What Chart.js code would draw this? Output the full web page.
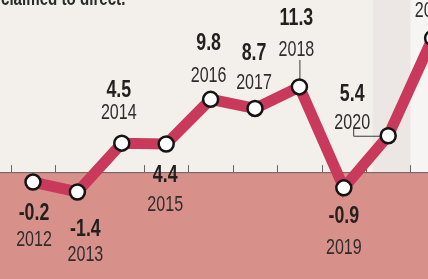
<!DOCTYPE html>
<html>
<head>
<meta charset="utf-8">
<script src="https://cdn.jsdelivr.net/npm/chart.js@4"></script>
<style>
  html, body { margin: 0; padding: 0; background: #f3f0eb; overflow: hidden; }
  #wrap { position: relative; width: 428px; height: 279px; overflow: hidden; }
  #head { position: absolute; left: 1px; top: -14px; font: bold 21px "Liberation Sans", sans-serif; color: #2a2a2a; white-space: nowrap; transform: scaleX(0.72); transform-origin: left top; }
  canvas { position: absolute; left: -10px; top: -10px; }
</style>
</head>
<body>
<div id="wrap">
  <canvas id="chart" width="448" height="299"></canvas>
  <div id="head">claimed to direct.</div>
</div>
<script>
const years = [2012, 2013, 2014, 2015, 2016, 2017, 2018, 2019, 2020, 2021];
const growth = [-0.2, -1.4, 4.5, 4.4, 9.8, 8.7, 11.3, -0.9, 5.4, 17.2];
const valueLabels = ["-0.2", "-1.4", "4.5", "4.4", "9.8", "8.7", "11.3", "-0.9", "5.4", ""];
const yearLabels = ["2012", "2013", "2014", "2015", "2016", "2017", "2018", "2019", "2020", "2021"];
const shadeLevel = 1.0;

// label placement relative to each point: [dx, dy value, dy year]
const labelOffsets = [
  [1, 31, 58], [8, 37, 63], [-3, -53, -30], [-1, 31, 61], [-2, -56, -23],
  [-1, -55, -26], [-3, -69, -37], [0, 29, 60], [-36, -41, -13], [0, -55, -27]
];

function narrowText(ctx, text, x, y, sx) {
  ctx.save();
  ctx.translate(x, y);
  ctx.scale(sx, 1);
  ctx.fillText(text, 0, 0);
  ctx.restore();
}

const labelPlugin = {
  id: "labels",
  beforeDraw(chart) {
    const { ctx } = chart;
    const x = chart.scales.x, y = chart.scales.y;
    const base = y.getPixelForValue(shadeLevel);
    ctx.save();
    ctx.fillStyle = "#f3f0eb";
    ctx.fillRect(0, 0, chart.width, chart.height);
    ctx.fillStyle = "#ece7e5";
    ctx.fillRect(x.getPixelForValue(2019.65), 0, 38, base);
    ctx.fillStyle = "#f7f5f3";
    ctx.fillRect(x.getPixelForValue(2019.65) + 38, 0, 60, base);
    ctx.fillStyle = "#d8918a";
    ctx.fillRect(0, base, chart.width, chart.height - base);
    ctx.strokeStyle = "#6b6160";
    ctx.lineWidth = 1;
    ctx.beginPath();
    ctx.moveTo(0, base + 0.5);
    ctx.lineTo(chart.width, base + 0.5);
    for (let i = 0; i < years.length; i++) {
      const tx = Math.round(x.getPixelForValue(years[i] - 0.5)) + 0.5;
      ctx.moveTo(tx, base);
      ctx.lineTo(tx, base - 7);
    }
    ctx.stroke();
    // leaders
    const p18 = [x.getPixelForValue(2018), y.getPixelForValue(growth[6])];
    const p20 = [x.getPixelForValue(2020), y.getPixelForValue(growth[8])];
    ctx.strokeStyle = "#3a3a3a";
    ctx.beginPath();
    ctx.moveTo(p18[0] + 0.5, p18[1] - 27);
    ctx.lineTo(p18[0] + 0.5, p18[1]);
    ctx.moveTo(p20[0] - 34.5, p20[1] - 7);
    ctx.lineTo(p20[0] - 34.5, p20[1] + 0.5);
    ctx.lineTo(p20[0], p20[1] + 0.5);
    ctx.stroke();
    ctx.restore();
  },
  afterDraw(chart) {
    const { ctx } = chart;
    const x = chart.scales.x, y = chart.scales.y;
    ctx.save();
    ctx.textAlign = "center";
    ctx.textBaseline = "middle";
    for (let i = 0; i < years.length; i++) {
      const px = x.getPixelForValue(years[i]);
      const py = y.getPixelForValue(growth[i]);
      const [dx, dv, dy] = labelOffsets[i];
      ctx.fillStyle = "#221f1e";
      ctx.font = 'bold 24px "Liberation Sans", sans-serif';
      narrowText(ctx, valueLabels[i], px + dx, py + dv, 0.74);
      ctx.fillStyle = "#302c2c";
      ctx.font = '22px "Liberation Sans", sans-serif';
      narrowText(ctx, yearLabels[i], px + dx, py + dy, 0.73);
    }
    ctx.restore();
  }
};

new Chart(document.getElementById("chart"), {
  type: "line",
  data: {
    datasets: [{
      data: years.map((yr, i) => ({ x: yr, y: growth[i] })),
      borderColor: "#c9395c",
      borderWidth: 11,
      pointRadius: 7.5,
      pointBorderWidth: 2.5,
      pointBackgroundColor: "#ffffff",
      pointBorderColor: "#151313",
      tension: 0,
      clip: false
    }]
  },
  options: {
    responsive: false,
    animation: false,
    layout: { padding: 0 },
    plugins: { legend: { display: false }, tooltip: { enabled: false } },
    scales: {
      x: { type: "linear", display: false, min: 2011.257, max: 2020.896 },
      y: { display: false, min: -11.92, max: 21.81 }
    }
  },
  plugins: [labelPlugin]
});
</script>
</body>
</html>
